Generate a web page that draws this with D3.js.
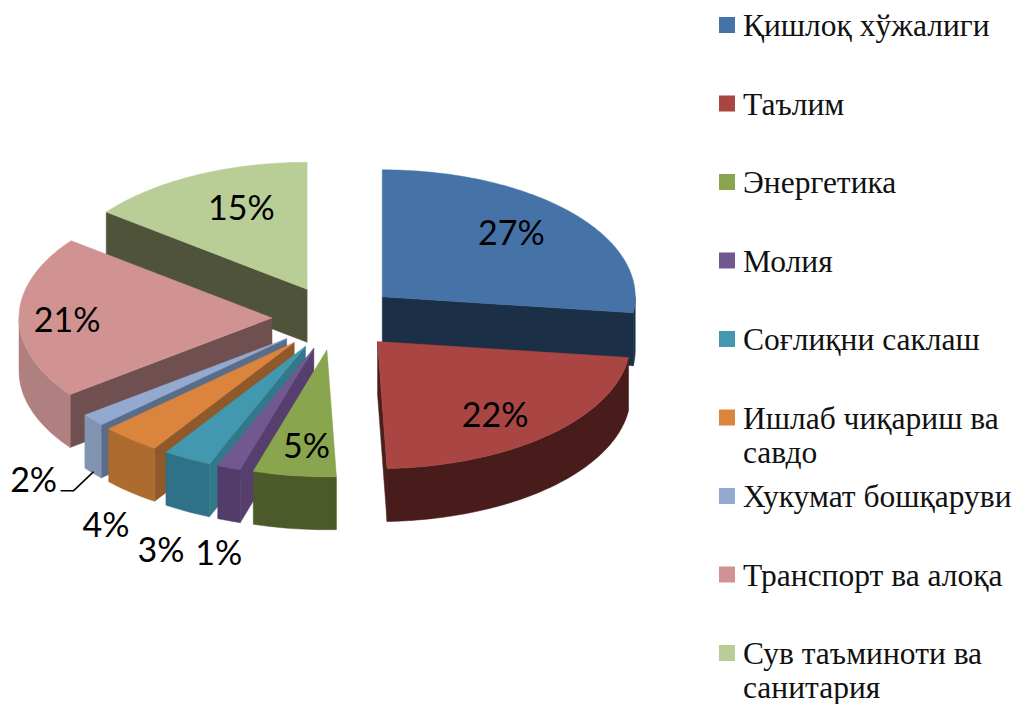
<!DOCTYPE html>
<html><head><meta charset="utf-8">
<script src="https://cdn.jsdelivr.net/npm/d3@7"></script>
<style>html,body{margin:0;padding:0;background:#fff}svg{display:block}</style>
</head><body>
<svg id="c" width="1015" height="704"></svg>
<script>
const categories = ["Қишлоқ хўжалиги","Таълим","Энергетика","Молия","Соғлиқни саклаш","Ишлаб чиқариш ва|савдо","Хукумат бошқаруви","Транспорт ва алоқа","Сув таъминоти ва|санитария"];
const values = [27,22.4,5.3,1.5,3.1,3.8,1.6,20.7,14.6];
const labelTexts = ["27%","22%","5%","1%","3%","4%","2%","21%","15%"];
const topColors  = ["#4572a7","#a94543","#89a54e","#71588f","#4198af","#db843d","#93a9cf","#d19392","#b9cd96"];
const wallColors = ["#1b2f47","#4a1f1c","#4c5a2a","#563f6e","#32788a","#8f592a","#596c88","#6f4f4f","#4e533a"];
const rimColors  = ["#1b2f47","#471c1a","#4c5a2a","#523d6a","#2f7186","#ad6b30","#8094b2","#b08080","#4e533a"];
const labelFactorX = [.68,.688,.63,1.12,1.22,1.15,1.305,.81,.587];
const labelFactorY = [.76,.785,.76,1.71,1.81,1.88,1.73,-5,.72];
const drawOrder = [8,0,7,6,5,4,3,2,1];

const svg = d3.select("#c");
const rx = 253, ry = 127, depth = 53, cx = 335, cy = 318, explodeX = 63, explodeY = 32;
const arcs = d3.pie().sort(null).startAngle(0).endAngle(2*Math.PI)(values);
const sx = d3.scaleLinear().domain([-1,1]).range([-rx,rx]);
const sy = d3.scaleLinear().domain([-1,1]).range([ry,-ry]);
const line = d3.line();

function apex(a){
  const m = (a.startAngle+a.endAngle)/2;
  return [cx + explodeX*Math.sin(m), cy - explodeY*Math.cos(m)];
}
function rim(a,ang,f=1){
  const A = apex(a);
  return [A[0]+sx(Math.sin(ang))*f, A[1]+sy(Math.cos(ang))*f];
}
function sample(a,a0,a1){
  const n = Math.max(2,Math.ceil((a1-a0)/0.02));
  return d3.range(n+1).map(i=>rim(a,a0+(a1-a0)*i/n));
}
const down = p=>[p[0],p[1]+depth];

drawOrder.forEach(i=>{
  const a = arcs[i], A = apex(a), g = svg.append("g");
  const C = rim(a,(a.startAngle+a.endAngle)/2,.5);
  [a.startAngle,a.endAngle].forEach(ang=>{
    const P = rim(a,ang);
    const nx = -(P[1]-A[1]), ny = P[0]-A[0];
    const inner = nx*(C[0]-A[0])+ny*(C[1]-A[1]);
    if (inner*ny < 0) {
      g.append("path").attr("d",line([A,P,down(P),down(A)])+"Z")
       .attr("fill",wallColors[i]).attr("stroke",wallColors[i]).attr("stroke-width",.5);
    }
  });
  const r0 = Math.max(a.startAngle,Math.PI/2), r1 = Math.min(a.endAngle,1.5*Math.PI);
  if (r1>r0){
    const pts = sample(a,r0,r1);
    g.append("path").attr("d",line(pts.concat(pts.map(down).reverse()))+"Z")
     .attr("fill",rimColors[i]).attr("stroke",rimColors[i]).attr("stroke-width",.5);
  }
  g.append("path").attr("d",line([A].concat(sample(a,a.startAngle,a.endAngle)))+"Z")
   .attr("fill",topColors[i]).attr("stroke",topColors[i]).attr("stroke-width",.5);
});

arcs.forEach((a,i)=>{
  const A = apex(a), m=(a.startAngle+a.endAngle)/2;
  const x = A[0]+sx(Math.sin(m))*labelFactorX[i], y = A[1]+sy(Math.cos(m))*labelFactorY[i];
  svg.append("text").attr("x",x).attr("y",y).attr("dy","0.36em").attr("text-anchor","middle")
    .attr("font-family","Lato").attr("font-size",34).attr("fill","#000").text(labelTexts[i]);
  if (i===6){
    svg.append("path").attr("fill","none").attr("stroke","#000").attr("stroke-width",1.5)
      .attr("d",line([[x+27,y+11],[x+40,y+11],[x+60,y-8]]));
  }
});

const legendY = d3.scalePoint().domain(d3.range(9)).range([25,653]);
categories.forEach((c,i)=>{
  const y = legendY(i);
  svg.append("rect").attr("x",719).attr("y",y-8).attr("width",16).attr("height",16).attr("fill",topColors[i]);
  c.split("|").forEach((t,k)=>{
    svg.append("text").attr("x",743).attr("y",y+11+k*34).attr("font-family","Liberation Serif")
      .attr("font-size",31.5).attr("fill","#111").text(t);
  });
});
</script>
</body></html>
